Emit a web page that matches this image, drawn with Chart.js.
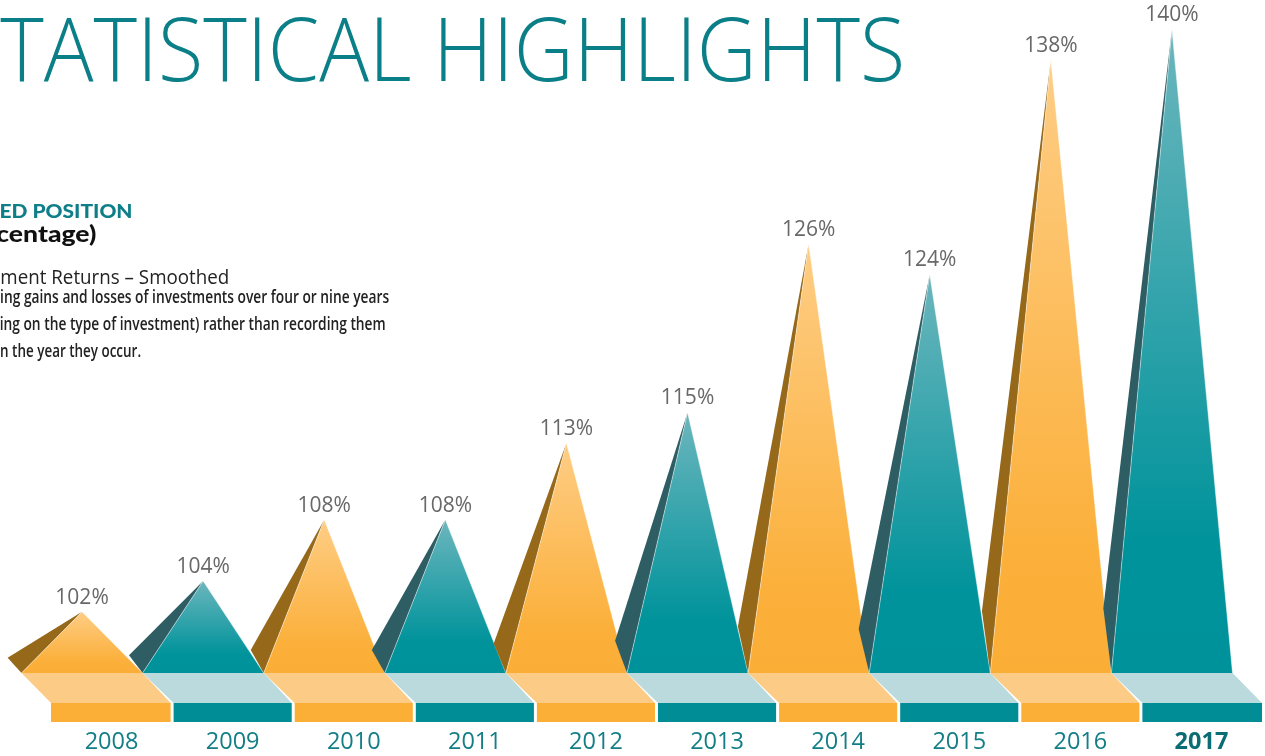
<!DOCTYPE html>
<html><head><meta charset="utf-8">
<script src="https://cdn.jsdelivr.net/npm/chart.js@4.4.1/dist/chart.umd.min.js"></script>
<style>
html,body{margin:0;padding:0;background:#fff;overflow:hidden;}
#wrap{position:relative;width:1265px;height:756px;overflow:hidden;background:#fff;}
#c{position:absolute;left:0;top:0;}
.ln{position:absolute;left:0;white-space:nowrap;line-height:1;transform-origin:0 0;}
</style></head><body>
<div id="wrap">
<canvas id="c" width="1265" height="756"></canvas>
<div class="ln" data-w="905" style="top:3px;font-family:'Open Sans';font-weight:300;font-size:88px;color:#0b7f87;"><span class="pre">S</span><span class="vis">TATISTICAL HIGHLIGHTS</span></div>
<div class="ln" data-w="133" style="top:200.5px;font-family:Lato;font-weight:900;font-size:19.5px;color:#0e7f88;"><span class="pre">FUND</span><span class="vis">ED POSITION</span></div>
<div class="ln" data-w="96" data-x="-4" style="top:221.5px;font-family:Lato;font-weight:900;font-size:23.5px;color:#111;"><span class="pre">(Per</span><span class="vis">centage)</span></div>
<div class="ln" data-w="229" style="top:266px;font-family:'Open Sans';font-weight:400;font-size:20.5px;color:#222;"><span class="pre">Invest</span><span class="vis">ment Returns – Smoothed</span></div>
<div class="ln" data-w="389" style="top:287.5px;font-family:'Open Sans';font-weight:600;font-size:17.5px;color:#222;"><span class="pre">(Recogniz</span><span class="vis">ing gains and losses of investments over four or nine years</span></div>
<div class="ln" data-w="386" style="top:314.5px;font-family:'Open Sans';font-weight:600;font-size:17.5px;color:#222;"><span class="pre">(depend</span><span class="vis">ing on the type of investment) rather than recording them</span></div>
<div class="ln" data-w="141" style="top:341.5px;font-family:'Open Sans';font-weight:600;font-size:17.5px;color:#222;"><span class="pre">entirely i</span><span class="vis">n the year they occur.</span></div>
</div>
<script>
// ---- data ----
const years = ['2008','2009','2010','2011','2012','2013','2014','2015','2016','2017'];
const values = [102, 104, 108, 108, 113, 115, 126, 124, 138, 140];
const valueLabels = ['102%','104%','108%','108%','113%','115%','126%','124%','138%','140%'];
const highlightYear = '2017';
const axisMin = 98;
const axisMax = 141.9;

// ---- styles ----
const ORANGE = {top:'#fecd85', mid:'#fbb03b', bot:'#fbae36', shadow:'#95681a', plat:'#fccb86', rect:'#fbaf36'};
const TEAL   = {top:'#6cb6bd', mid:'#00939b', bot:'#00929a', shadow:'#2e5e64', plat:'#badadd', rect:'#008d96'};
const SHIFT = 29.5, DEPTH = 30, RECT_H = 19;

function fit(){
  document.querySelectorAll('.ln').forEach(el=>{
    el.style.transform='none'; el.style.left='0px';
    const pre = el.querySelector('.pre'), vis = el.querySelector('.vis');
    const pw = pre ? pre.getBoundingClientRect().width : 0;
    const vw = vis.getBoundingClientRect().width;
    const target = parseFloat(el.dataset.w), x0 = parseFloat(el.dataset.x || 0);
    const s = (target - x0) / vw;
    el.style.transform = 'scaleX(' + s + ')';
    el.style.left = (x0 - pw * s) + 'px';
  });
}
fit();
if (document.fonts && document.fonts.ready) document.fonts.ready.then(fit);

const pyramids = {
  id: 'pyramids',
  afterDatasetsDraw(chart){
    const ctx = chart.ctx;
    const bars = chart.getDatasetMeta(0).data;
    const n = bars.length;
    ctx.save();
    // platform
    bars.forEach((b,i)=>{
      const pal = i % 2 === 0 ? ORANGE : TEAL;
      const L = b.x - b.width/2, R = b.x + b.width/2, B = b.base;
      const bl = L + SHIFT + (i > 0 ? 1.5 : 0);
      const br = R + SHIFT - (i < n-1 ? 1.5 : 0);
      ctx.fillStyle = pal.plat;
      ctx.beginPath();
      ctx.moveTo(L, B); ctx.lineTo(R, B); ctx.lineTo(br, B + DEPTH); ctx.lineTo(bl, B + DEPTH); ctx.closePath();
      ctx.fill();
      ctx.fillStyle = pal.rect;
      ctx.fillRect(bl, B + DEPTH, br - bl, RECT_H);
      // year label
      ctx.fillStyle = years[i] === highlightYear ? '#0b6d74' : '#137e86';
      ctx.font = (years[i] === highlightYear ? '700 ' : '400 ') + '23.5px "Open Sans"';
      ctx.textAlign = 'center'; ctx.textBaseline = 'alphabetic';
      ctx.fillText(chart.data.labels[i], b.x + SHIFT, B + 75.5);
    });
    // pyramids
    bars.forEach((b,i)=>{
      const pal = i % 2 === 0 ? ORANGE : TEAL;
      const L = b.x - b.width/2, R = b.x + b.width/2, B = b.base;
      const h = B - b.y;
      const dx = -(14.5 - 0.01*h), dy = 10 + 0.085*h;
      ctx.fillStyle = pal.shadow;
      ctx.beginPath();
      ctx.moveTo(L, B); ctx.lineTo(L + dx, B - dy); ctx.lineTo(b.x, b.y); ctx.closePath();
      ctx.fill();
      const g = ctx.createLinearGradient(0, b.y, 0, B);
      g.addColorStop(0, pal.top); g.addColorStop(0.8, pal.mid); g.addColorStop(1, pal.bot);
      ctx.fillStyle = g;
      ctx.beginPath();
      ctx.moveTo(L, B); ctx.lineTo(b.x, b.y); ctx.lineTo(R, B); ctx.closePath();
      ctx.fill();
      ctx.strokeStyle = 'rgba(255,255,255,0.45)'; ctx.lineWidth = 1;
      ctx.beginPath();
      ctx.moveTo(L, B); ctx.lineTo(b.x, b.y); ctx.lineTo(R, B);
      ctx.stroke();
    });
    // value labels
    ctx.fillStyle = '#686868';
    ctx.font = '400 21px "Open Sans"';
    ctx.textAlign = 'center'; ctx.textBaseline = 'alphabetic';
    bars.forEach((b,i)=>{ ctx.fillText(valueLabels[i], b.x, b.y - 8); });
    ctx.restore();
  }
};

new Chart(document.getElementById('c').getContext('2d'), {
  type: 'bar',
  data: { labels: years, datasets: [{ data: values, base: axisMin, backgroundColor: 'rgba(0,0,0,0)', borderWidth: 0, categoryPercentage: 1, barPercentage: 1 }] },
  options: {
    responsive: false, animation: false, events: [],
    layout: { padding: { left: 21.5, right: 32.5, top: 0, bottom: 83 } },
    plugins: { legend: { display: false }, tooltip: { enabled: false }, title: { display: false } },
    scales: {
      x: { display: false, offset: true, grid: { display: false } },
      y: { display: false, min: axisMin, max: axisMax }
    }
  },
  plugins: [pyramids]
});
</script>
</body></html>
